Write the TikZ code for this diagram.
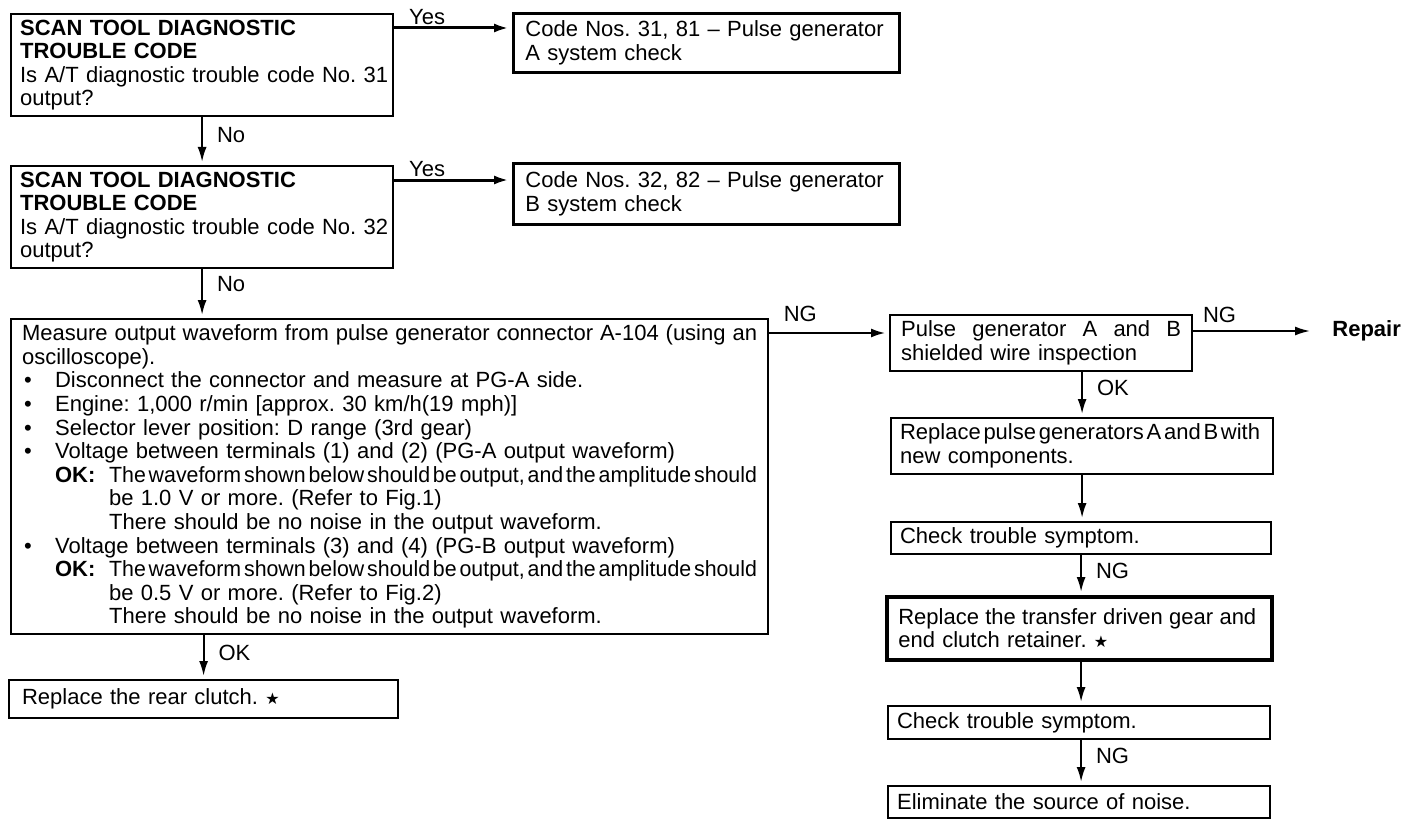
\documentclass[tikz,border=0pt]{standalone}
\usepackage{fontspec}
\setmainfont{Liberation Sans}
\newfontfamily\narrowfont[FakeStretch=0.97]{Liberation Sans}
\newfontfamily\starfont{DejaVu Sans}
\usetikzlibrary{arrows.meta}

\newcommand{\bodyfont}{\fontsize{11pt}{11.8pt}\selectfont}
% one line set to a fixed width (spaces stretch or shrink)
\newcommand{\pgjust}[2]{{\spaceskip=0.28em plus 1em minus 0.28em\relax\makebox[#1][s]{#2}}}
\newcommand{\pgbul}{\makebox[16.5pt][l]{\hspace*{1pt}\textbullet}}
\newcommand{\pgok}[1]{\hspace*{16.5pt}\makebox[27pt][l]{\textbf{OK:}}{\narrowfont\pgjust{324pt}{#1}}}
\newcommand{\pgind}{\hspace*{43.5pt}}
\newcommand{\pgstar}{{\starfont\fontsize{8pt}{8pt}\selectfont ★}}

\begin{document}
\frenchspacing
\begin{tikzpicture}[x=0.5pt,y=-0.5pt,
  box/.style={draw, line width=1.1pt, anchor=north west, align=left, inner ysep=0pt, inner xsep=4.5pt, font=\bodyfont},
  arr/.style={-{Latex[length=7.5pt,width=4.5pt]}, line width=1pt, shorten >=1.5pt},
  lbl/.style={font=\bodyfont, inner sep=1pt}]
\useasboundingbox[fill=white] (0,0) rectangle (1408,824);

% left column
\node[box, text width=182pt, minimum height=51pt] (q1) at (10,13)
  {\textbf{SCAN TOOL DIAGNOSTIC}\\ \textbf{TROUBLE CODE}\\ \mbox{Is A/T diagnostic trouble code No. 31}\\ output?};
\node[box, text width=182pt, minimum height=51pt] (q2) at (10,165)
  {\textbf{SCAN TOOL DIAGNOSTIC}\\ \textbf{TROUBLE CODE}\\ \mbox{Is A/T diagnostic trouble code No. 32}\\ output?};
\node[box, line width=1.4pt, inner xsep=6pt, text width=181pt, minimum height=29.5pt] (a1) at (512,12)
  {\mbox{Code Nos. 31, 81 -- Pulse generator}\\ A system check};
\node[box, line width=1.4pt, inner xsep=6pt, text width=181pt, minimum height=30.5pt] (a2) at (512,162)
  {\mbox{Code Nos. 32, 82 -- Pulse generator}\\ B system check};
\node[box, inner xsep=5.5pt, text width=367.5pt, minimum height=157.5pt] (m) at (10,318)
  {\pgjust{367.5pt}{Measure output waveform from pulse generator connector A-104 (using an}\\
   oscilloscope).\\
   \pgbul Disconnect the connector and measure at PG-A side.\\
   \pgbul Engine: 1,000 r/min [approx. 30 km/h(19 mph)]\\
   \pgbul Selector lever position: D range (3rd gear)\\
   \pgbul Voltage between terminals (1) and (2) (PG-A output waveform)\\
   \pgok{The waveform shown below should be output, and the amplitude should}\\
   \pgind be 1.0 V or more. (Refer to Fig.1)\\
   \pgind There should be no noise in the output waveform.\\
   \pgbul Voltage between terminals (3) and (4) (PG-B output waveform)\\
   \pgok{The waveform shown below should be output, and the amplitude should}\\
   \pgind be 0.5 V or more. (Refer to Fig.2)\\
   \pgind There should be no noise in the output waveform.};
\node[box, inner xsep=6.5pt, text width=181.5pt, minimum height=19pt] (r) at (8,679)
  {Replace the rear clutch. \pgstar};

% right column
\node[box, inner xsep=5.5pt, text width=140pt, minimum height=28pt] (pg) at (889,314)
  {\pgjust{140pt}{Pulse generator A and B}\\ shielded wire inspection};
\node[anchor=west, inner xsep=9.5pt, inner ysep=0pt, font=\bodyfont\bfseries] (rep) at (1313,331) {Repair};
\node[box, text width=182pt, minimum height=28pt] (rpg) at (890,417)
  {\pgjust{180pt}{Replace pulse generators A and B with}\\ new components.};
\node[box, text width=181pt, minimum height=16pt] (c1) at (890,521) {Check trouble symptom.};
\node[box, line width=1.8pt, inner xsep=5.75pt, text width=181pt, minimum height=31.5pt] (tr) at (885,595)
  {\pgjust{179pt}{Replace the transfer driven gear and}\\ end clutch retainer. \pgstar};
\node[box, text width=182pt, minimum height=16.5pt] (c2) at (887,705) {Check trouble symptom.};
\node[box, text width=182pt, minimum height=16pt] (el) at (887,785) {Eliminate the source of noise.};

% connectors
\coordinate (yes1) at (0,28);
\coordinate (yes2) at (0,180);
\coordinate (ng1) at (0,333);
\draw[arr, line width=1.5pt] (q1.east |- yes1) -- node[lbl, above, pos=0.28] {Yes} (a1.west |- yes1);
\draw[arr, line width=1.5pt] (q2.east |- yes2) -- node[lbl, above, pos=0.28] {Yes} (a2.west |- yes2);
\draw[arr] (q1.south) -- node[lbl, right=6pt, pos=0.38] {No} (q2.north);
\draw[arr] (q2.south) -- node[lbl, right=6pt, pos=0.31] {No} (q2.south |- m.north);
\draw[arr] (r.north |- m.south) -- node[lbl, right=6pt, pos=0.41] {OK} (r.north);
\draw[arr, line width=1.4pt] (m.east |- ng1) -- node[lbl, above=4pt, pos=0.26] {NG} (pg.west |- ng1);
\draw[arr, line width=0.9pt] (pg.east |- rep.west) -- node[lbl, above=2.5pt, pos=0.22] {NG} (rep.west);
\draw[arr] (rpg.north |- pg.south) -- node[lbl, right=6pt, pos=0.36] {OK} (rpg.north);
\draw[arr] (rpg.south) -- (rpg.south |- c1.north);
\draw[arr] (c1.south) -- node[lbl, right=6pt, pos=0.4] {NG} (c1.south |- tr.north);
\draw[arr] (c1.south |- tr.south) -- (c1.south |- c2.north);
\draw[arr] (c1.south |- c2.south) -- node[lbl, right=6pt, pos=0.36] {NG} (c1.south |- el.north);
\end{tikzpicture}
\end{document}
